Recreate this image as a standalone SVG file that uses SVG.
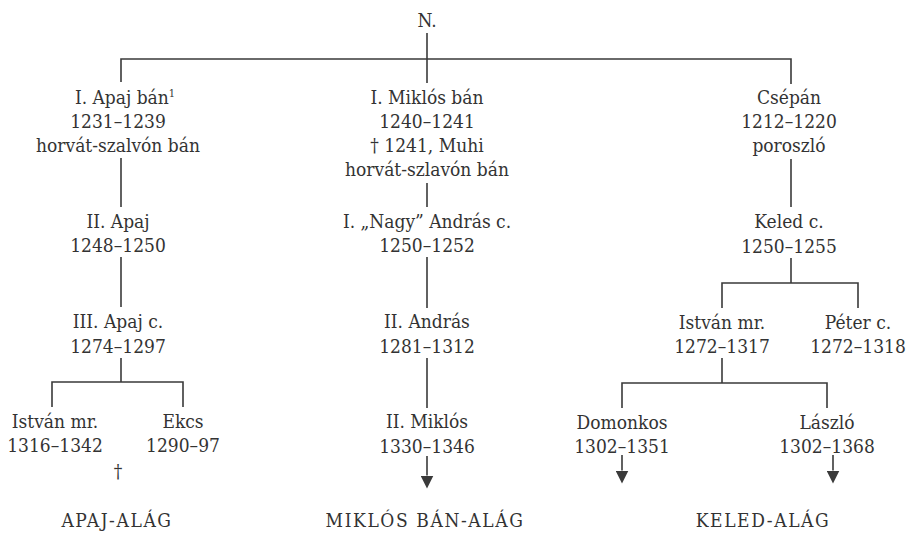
<svg xmlns="http://www.w3.org/2000/svg" width="909" height="533" viewBox="0 0 909 533">
<style>
  text { font-family: "DejaVu Serif Condensed", "DejaVu Serif", serif; font-stretch: condensed; font-size: 19px; fill: #333333; text-anchor: middle; }
  .sup { font-size: 11px; }
  .lbl { letter-spacing: 1.6px; }
  .ln { fill: none; stroke: #3a3a3a; stroke-width: 1.6; }
</style>
<defs>
  <marker id="arr" markerUnits="userSpaceOnUse" viewBox="0 0 13 13" markerWidth="13" markerHeight="13" refX="0" refY="6.5" orient="auto">
    <path d="M0,0 L13,6.5 L0,13 Z" fill="#3a3a3a"/>
  </marker>
</defs>
<rect width="909" height="533" fill="#ffffff"/>
<g id="connectors">
  <path class="ln" d="M427 33 V83"/>
  <path class="ln" d="M121 82 V59 H791 V84"/>
  <path class="ln" d="M121 158 V207"/>
  <path class="ln" d="M121 257 V307"/>
  <path class="ln" d="M121 358 V382"/>
  <path class="ln" d="M52 407 V382 H183 V407"/>
  <path class="ln" d="M427 183 V207"/>
  <path class="ln" d="M427 257 V308"/>
  <path class="ln" d="M427 358 V408"/>
  <path class="ln" d="M427 456 V475.5" marker-end="url(#arr)"/>
  <path class="ln" d="M791 159 V207"/>
  <path class="ln" d="M791 258 V283"/>
  <path class="ln" d="M722 308 V283 H858 V308"/>
  <path class="ln" d="M722 358 V383"/>
  <path class="ln" d="M622 408 V383 H827 V408"/>
  <path class="ln" d="M622 455 V470.5" marker-end="url(#arr)"/>
  <path class="ln" d="M833 455 V470.5" marker-end="url(#arr)"/>
</g>
<g id="n-root"><text x="427" y="27">N.</text></g>
<g id="n-apaj1">
  <text x="125" y="104">I. Apaj bán<tspan class="sup" dy="-7">1</tspan></text>
  <text x="118" y="128">1231–1239</text>
  <text x="118" y="152">horvát-szalvón bán</text>
</g>
<g id="n-apaj2"><text x="118" y="228">II. Apaj</text><text x="118" y="252">1248–1250</text></g>
<g id="n-apaj3"><text x="118" y="328">III. Apaj c.</text><text x="118" y="353">1274–1297</text></g>
<g id="n-istvan1"><text x="55" y="428">István mr.</text><text x="55" y="452">1316–1342</text></g>
<g id="n-ekcs"><text x="183" y="428">Ekcs</text><text x="183" y="452">1290–97</text></g>
<g id="n-dagger"><text x="118" y="478">†</text></g>
<g id="n-miklos1">
  <text x="427" y="104">I. Miklós bán</text>
  <text x="427" y="128">1240–1241</text>
  <text x="427" y="152">† 1241, Muhi</text>
  <text x="427" y="176">horvát-szlavón bán</text>
</g>
<g id="n-andras1"><text x="427" y="228">I. „Nagy” András c.</text><text x="427" y="252">1250–1252</text></g>
<g id="n-andras2"><text x="427" y="328">II. András</text><text x="427" y="353">1281–1312</text></g>
<g id="n-miklos2"><text x="427" y="428">II. Miklós</text><text x="427" y="453">1330–1346</text></g>
<g id="n-csepan">
  <text x="789" y="104">Csépán</text>
  <text x="789" y="128">1212–1220</text>
  <text x="789" y="152">poroszló</text>
</g>
<g id="n-keled"><text x="789" y="228">Keled c.</text><text x="789" y="253">1250–1255</text></g>
<g id="n-istvan2"><text x="722" y="329">István mr.</text><text x="722" y="353">1272–1317</text></g>
<g id="n-peter"><text x="858" y="329">Péter c.</text><text x="858" y="353">1272–1318</text></g>
<g id="n-domonkos"><text x="622" y="429">Domonkos</text><text x="622" y="453">1302–1351</text></g>
<g id="n-laszlo"><text x="827" y="429">László</text><text x="827" y="453">1302–1368</text></g>
<g id="labels">
  <text class="lbl" x="117" y="527">APAJ-ALÁG</text>
  <text class="lbl" x="425" y="527">MIKLÓS BÁN-ALÁG</text>
  <text class="lbl" x="763" y="527">KELED-ALÁG</text>
</g>
</svg>
